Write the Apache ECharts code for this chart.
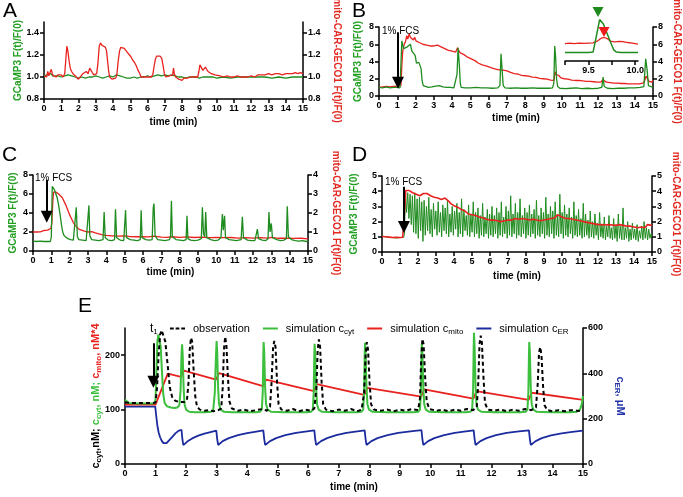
<!DOCTYPE html>
<html><head><meta charset="utf-8">
<script src="https://cdn.jsdelivr.net/npm/echarts@6/dist/echarts.min.js"></script>
<style>html,body{margin:0;padding:0;background:#fff}#c{width:683px;height:497px}</style>
</head><body><div id="c"></div>
<script>
// ---------------- DATA ----------------
const timeLabelStep = 1;
const aTicks = [0.8, 1.0, 1.2, 1.4];
const insetTicks = [9.25, 9.5, 9.75, 10.0];
const insetLabels = [9.5, 10.0];
const eLeftTicks = [0, 100, 200];

const aGreen = [[0,1.01],[0.1,1.0],[0.2,1.02],[0.3,1.01],[0.4,1.03],[0.5,1.01],[0.6,1.0],[0.8,1.01],[1.0,1.0],[1.2,1.01],[1.4,1.02],[1.6,1.01],[1.8,1.0],[2.0,0.99],[2.2,1.0],[2.4,0.99],[2.6,1.0],[2.8,1.0],[3.0,1.01],[3.2,1.0],[3.4,0.99],[3.6,1.0],[3.8,1.01],[4.0,1.0],[4.2,1.02],[4.4,1.01],[4.6,1.0],[4.8,0.99],[5.0,0.99],[5.2,1.0],[5.4,0.99],[5.6,1.0],[5.8,1.0],[6.0,1.01],[6.2,1.0],[6.4,1.01],[6.6,1.02],[6.8,1.01],[7.0,1.02],[7.2,1.01],[7.4,1.02],[7.6,1.01],[7.8,1.0],[8.0,1.0],[8.2,0.99],[8.4,1.0],[8.6,1.0],[8.8,1.0],[9.0,0.99],[9.2,1.0],[9.4,1.0],[9.6,1.0],[9.8,1.0],[10.0,0.99],[10.4,1.0],[10.8,0.99],[11.2,1.0],[11.6,1.0],[12.0,1.0],[12.4,1.0],[12.8,1.0],[13.2,0.99],[13.6,1.0],[14.0,0.99],[14.4,1.0],[14.8,1.0],[15.0,1.0]];
const aRed = [[0,1.01],[0.08,1.02],[0.15,1.0],[0.22,1.05],[0.28,1.01],[0.35,1.02],[0.42,1.07],[0.48,1.03],[0.55,1.01],[0.62,1.02],[0.7,1.0],[0.8,1.02],[0.9,1.01],[1.0,1.02],[1.1,1.0],[1.2,1.03],[1.26,1.15],[1.32,1.28],[1.38,1.24],[1.45,1.15],[1.52,1.08],[1.6,1.05],[1.68,1.03],[1.75,1.04],[1.82,1.01],[1.9,1.0],[1.98,0.98],[2.05,0.99],[2.15,1.01],[2.25,1.03],[2.35,1.02],[2.45,1.05],[2.55,1.03],[2.65,1.08],[2.72,1.09],[2.8,1.04],[2.88,1.02],[2.95,1.01],[3.05,1.03],[3.12,1.12],[3.2,1.28],[3.27,1.31],[3.35,1.29],[3.45,1.28],[3.55,1.27],[3.62,1.24],[3.68,1.15],[3.74,1.06],[3.8,1.0],[3.88,0.99],[3.95,0.98],[4.05,0.98],[4.15,0.99],[4.22,1.02],[4.3,1.15],[4.38,1.24],[4.45,1.27],[4.55,1.27],[4.65,1.26],[4.75,1.25],[4.85,1.22],[4.95,1.2],[5.05,1.18],[5.15,1.15],[5.25,1.13],[5.35,1.1],[5.45,1.06],[5.55,1.03],[5.62,1.0],[5.7,0.99],[5.8,1.0],[5.9,0.99],[6.0,1.0],[6.1,0.99],[6.2,1.0],[6.3,1.02],[6.38,1.1],[6.45,1.16],[6.52,1.19],[6.62,1.2],[6.72,1.19],[6.82,1.17],[6.9,1.1],[6.97,1.03],[7.05,1.0],[7.15,1.0],[7.25,1.01],[7.35,1.0],[7.45,1.02],[7.5,1.08],[7.55,1.03],[7.62,1.0],[7.7,0.99],[7.8,0.98],[7.9,0.99],[8.0,0.97],[8.1,0.99],[8.2,0.98],[8.3,0.99],[8.4,0.98],[8.5,1.0],[8.6,0.99],[8.7,1.0],[8.8,0.99],[8.9,1.0],[8.97,1.05],[9.03,1.11],[9.1,1.09],[9.2,1.06],[9.28,1.07],[9.35,1.09],[9.42,1.07],[9.5,1.05],[9.6,1.04],[9.7,1.03],[9.8,1.02],[9.9,1.02],[10.0,1.01],[10.2,1.01],[10.4,1.0],[10.6,1.01],[10.8,1.0],[11.0,1.0],[11.2,1.01],[11.4,1.0],[11.6,1.0],[11.8,1.0],[12.0,1.01],[12.2,1.0],[12.4,1.02],[12.6,1.02],[12.8,1.02],[13.0,1.03],[13.2,1.02],[13.4,1.03],[13.6,1.03],[13.8,1.02],[14.0,1.03],[14.2,1.03],[14.4,1.03],[14.55,1.04],[14.7,1.03],[14.85,1.04],[15.0,1.03]];

const bGreen = [[0,1.0],[0.2,0.95],[0.4,1.05],[0.6,0.95],[0.8,1.0],[1.0,1.0],[1.15,0.95],[1.2,1.1],[1.25,6.4],[1.3,5.9],[1.35,5.5],[1.45,5.6],[1.55,5.7],[1.65,5.5],[1.72,6.0],[1.8,5.2],[1.9,5.0],[1.98,4.7],[2.05,3.8],[2.12,3.6],[2.18,3.9],[2.24,4.0],[2.3,3.2],[2.36,1.8],[2.42,1.2],[2.5,1.05],[2.7,1.0],[2.9,1.05],[3.1,1.15],[3.3,1.2],[3.5,1.05],[3.7,1.0],[3.9,1.0],[4.1,0.95],[4.2,1.0],[4.27,2.5],[4.33,5.6],[4.4,3.5],[4.45,1.5],[4.5,1.0],[4.7,0.95],[5.0,0.95],[5.3,1.0],[5.6,0.95],[5.9,0.95],[6.2,0.9],[6.5,0.95],[6.62,1.2],[6.68,4.9],[6.74,3.0],[6.8,1.2],[6.9,0.95],[7.2,0.9],[7.5,0.95],[7.8,0.9],[8.1,0.9],[8.4,0.95],[8.7,0.9],[9.0,0.9],[9.3,0.9],[9.5,0.95],[9.57,1.5],[9.62,5.8],[9.67,4.5],[9.72,2.0],[9.78,1.1],[9.9,0.9],[10.2,0.85],[10.5,0.9],[10.8,0.95],[11.1,0.85],[11.4,0.9],[11.7,0.85],[12.0,0.9],[12.2,1.0],[12.27,2.2],[12.33,1.1],[12.5,0.9],[12.8,0.85],[13.1,0.9],[13.4,0.9],[13.7,0.95],[14.0,0.95],[14.3,1.0],[14.5,1.1],[14.6,4.3],[14.68,3.0],[14.75,1.2],[14.85,1.0],[15.0,1.0]];
const bRed = [[0,1.0],[0.1,0.9],[0.2,1.05],[0.3,0.95],[0.4,1.1],[0.5,0.95],[0.6,1.05],[0.7,0.9],[0.8,1.1],[0.9,1.0],[1.0,1.15],[1.1,0.95],[1.2,1.2],[1.25,3.5],[1.3,5.2],[1.38,6.0],[1.45,6.3],[1.52,7.0],[1.58,6.6],[1.65,7.2],[1.72,6.8],[1.8,6.9],[1.88,6.5],[1.95,6.8],[2.02,6.4],[2.1,6.6],[2.2,6.2],[2.3,6.4],[2.4,6.0],[2.5,6.2],[2.6,5.9],[2.7,6.0],[2.8,5.8],[2.9,5.95],[3.0,5.8],[3.1,6.0],[3.2,5.9],[3.3,6.05],[3.4,5.7],[3.5,5.8],[3.6,5.5],[3.7,5.6],[3.8,5.3],[3.9,5.4],[4.0,5.2],[4.1,5.3],[4.2,5.1],[4.3,5.6],[4.36,5.3],[4.45,5.0],[4.55,5.2],[4.65,4.8],[4.75,4.9],[4.85,4.5],[4.95,4.6],[5.05,4.3],[5.15,4.4],[5.25,4.1],[5.35,4.0],[5.45,3.8],[5.55,3.9],[5.65,3.6],[5.75,3.7],[5.85,3.5],[5.95,3.55],[6.05,3.35],[6.15,3.4],[6.25,3.2],[6.35,3.3],[6.45,3.1],[6.55,3.2],[6.65,3.0],[6.72,3.2],[6.8,3.0],[6.9,3.05],[7.0,2.9],[7.1,2.95],[7.2,2.75],[7.3,2.85],[7.4,2.6],[7.5,2.7],[7.6,2.55],[7.7,2.6],[7.8,2.4],[7.9,2.5],[8.0,2.35],[8.1,2.45],[8.2,2.3],[8.3,2.35],[8.4,2.2],[8.5,2.3],[8.6,2.15],[8.7,2.2],[8.8,2.05],[8.9,2.15],[9.0,2.0],[9.1,2.1],[9.2,1.95],[9.3,2.0],[9.4,1.85],[9.5,1.95],[9.58,1.8],[9.64,2.8],[9.7,2.5],[9.78,2.3],[9.86,2.35],[9.95,2.1],[10.05,2.2],[10.15,2.0],[10.25,2.1],[10.35,1.95],[10.45,2.0],[10.55,1.85],[10.65,1.95],[10.75,1.8],[10.85,1.9],[10.95,1.8],[11.05,1.85],[11.15,1.75],[11.25,1.8],[11.35,1.7],[11.45,1.8],[11.55,1.7],[11.65,1.75],[11.75,1.65],[11.85,1.7],[11.95,1.6],[12.05,1.7],[12.15,1.6],[12.25,1.9],[12.35,1.7],[12.45,1.6],[12.55,1.65],[12.65,1.55],[12.75,1.6],[12.85,1.5],[12.95,1.6],[13.05,1.5],[13.15,1.55],[13.25,1.45],[13.35,1.55],[13.45,1.45],[13.55,1.5],[13.65,1.4],[13.75,1.5],[13.85,1.4],[13.95,1.45],[14.05,1.4],[14.15,1.5],[14.25,1.4],[14.35,1.45],[14.45,1.5],[14.55,1.8],[14.62,2.3],[14.7,2.0],[14.78,1.7],[14.86,1.8],[14.93,1.6],[15.0,1.8]];
const bInsetGreen = [[9.25,1.5],[9.3,1.5],[9.35,1.5],[9.4,1.5],[9.45,1.5],[9.5,1.5],[9.55,1.6],[9.58,4.0],[9.62,7.4],[9.66,6.6],[9.7,4.9],[9.74,3.2],[9.77,2.0],[9.8,1.6],[9.85,1.5],[9.9,1.5],[9.95,1.5],[10.0,1.5],[10.03,1.5]];
const bInsetRed = [[9.25,3.1],[9.3,3.2],[9.35,3.1],[9.4,3.2],[9.45,3.15],[9.5,3.2],[9.55,3.25],[9.6,3.6],[9.64,4.1],[9.67,4.2],[9.7,4.0],[9.74,3.5],[9.78,3.4],[9.83,3.5],[9.87,3.45],[9.92,3.3],[9.97,3.2],[10.03,3.0]];
const bInsetMarkers = [[9.603, 8.75], [9.667, 5.2]];

const cGreen = [[0,1.05],[0.2,1.0],[0.4,1.05],[0.6,1.0],[0.8,1.0],[0.95,1.0],[1.0,1.5],[1.05,6.8],[1.1,6.7],[1.18,6.4],[1.25,6.0],[1.32,5.6],[1.4,4.8],[1.48,3.8],[1.55,2.8],[1.62,2.0],[1.7,1.6],[1.8,1.4],[1.9,1.3],[2.05,1.2],[2.2,1.15],[2.3,1.2],[2.36,4.6],[2.42,1.5],[2.5,1.2],[2.7,1.15],[2.9,1.1],[3.0,1.3],[3.05,4.8],[3.1,1.6],[3.2,1.2],[3.4,1.15],[3.6,1.1],[3.82,1.2],[3.88,4.1],[3.94,1.4],[4.1,1.15],[4.3,1.1],[4.45,1.2],[4.5,4.4],[4.56,1.4],[4.75,1.15],[4.95,1.1],[5.0,1.3],[5.05,4.3],[5.1,1.4],[5.3,1.2],[5.5,1.15],[5.7,1.1],[5.85,1.2],[5.9,4.3],[5.95,1.4],[6.15,1.2],[6.35,1.15],[6.5,1.2],[6.56,4.6],[6.6,5.0],[6.66,1.6],[6.8,1.2],[7.0,1.15],[7.2,1.1],[7.45,1.2],[7.5,1.6],[7.55,5.3],[7.6,1.5],[7.8,1.2],[8.0,1.15],[8.2,1.1],[8.35,1.2],[8.4,3.7],[8.45,1.3],[8.6,1.15],[8.8,1.1],[9.0,1.15],[9.18,1.3],[9.24,4.6],[9.3,1.8],[9.37,1.5],[9.42,4.1],[9.48,1.4],[9.7,1.2],[9.9,1.1],[10.1,1.15],[10.25,1.4],[10.33,3.9],[10.38,2.2],[10.45,3.7],[10.5,1.4],[10.7,1.2],[10.9,1.15],[11.1,1.1],[11.35,1.2],[11.42,3.6],[11.48,1.4],[11.7,1.15],[11.9,1.1],[12.1,1.1],[12.2,1.3],[12.24,2.3],[12.3,1.3],[12.5,1.15],[12.7,1.1],[12.82,1.3],[12.87,4.1],[12.93,2.0],[13.0,2.9],[13.06,1.4],[13.3,1.2],[13.5,1.1],[13.7,1.15],[13.82,1.3],[13.87,4.7],[13.93,1.5],[14.1,1.2],[14.3,1.1],[14.5,1.05],[14.7,1.1],[14.9,1.0],[15.0,1.05]];
const cRed = [[0,1.0],[0.1,1.02],[0.2,1.0],[0.3,1.03],[0.4,1.01],[0.5,1.05],[0.6,1.08],[0.7,1.05],[0.8,1.1],[0.9,1.15],[0.98,1.2],[1.03,1.5],[1.08,2.6],[1.12,3.1],[1.18,3.15],[1.25,3.1],[1.32,3.15],[1.4,3.0],[1.5,2.9],[1.6,2.8],[1.7,2.6],[1.8,2.4],[1.9,2.15],[2.0,1.9],[2.1,1.7],[2.2,1.5],[2.3,1.35],[2.4,1.25],[2.5,1.15],[2.6,1.1],[2.8,1.05],[3.0,1.0],[3.2,1.02],[3.4,0.95],[3.6,0.9],[3.8,0.85],[4.0,0.82],[4.3,0.8],[4.6,0.78],[5.0,0.8],[5.3,0.76],[5.6,0.75],[6.0,0.76],[6.3,0.74],[6.6,0.78],[7.0,0.73],[7.3,0.72],[7.6,0.75],[8.0,0.72],[8.4,0.74],[8.8,0.71],[9.2,0.73],[9.6,0.7],[10.0,0.72],[10.4,0.7],[10.8,0.71],[11.2,0.68],[11.6,0.7],[12.0,0.68],[12.4,0.7],[12.8,0.68],[13.0,0.72],[13.4,0.67],[13.8,0.68],[14.2,0.66],[14.6,0.67],[15.0,0.64]];

const dGreenPre = [[0,1.05],[0.2,1.0],[0.4,0.95],[0.6,0.95],[0.8,0.92],[1.0,0.95],[1.2,0.95],[1.25,1.2]];
const dGreenOscStart = 1.30, dGreenOscStep = 0.065;
const dGreenOsc = [4.0,2.6,3.9,2.2,3.8,1.8,
 3.7,1.3,3.9,1.2,3.5,0.9,3.6,1.4,3.3,0.7,
 3.4,1.1,3.0,1.4,3.6,1.2,2.8,1.0,3.2,1.5,
 2.7,1.1,3.3,1.3,2.6,1.0,3.1,1.4,2.9,1.2,
 3.4,1.0,2.5,1.3,3.0,1.1,2.7,1.5,3.2,1.0,
 2.6,1.2,3.5,1.0,2.8,1.4,2.4,1.1,3.1,1.0,
 2.5,1.3,3.3,1.0,2.6,1.2,2.9,0.9,2.4,1.1,
 3.2,1.0,2.3,1.2,2.8,0.9,2.5,1.1,3.0,1.0,
 2.4,1.2,2.9,0.9,2.6,1.1,3.3,1.0,2.3,1.2,
 3.0,0.9,2.7,1.1,3.7,1.0,2.5,1.2,3.2,0.9,
 2.6,1.1,3.5,1.0,2.4,1.2,2.9,0.9,2.6,1.1,
 3.1,1.0,2.5,1.2,2.8,0.9,3.4,1.1,2.4,1.0,
 2.9,1.2,2.6,0.9,3.6,1.1,2.5,1.0,3.0,1.2,
 2.7,0.9,3.3,1.1,2.4,1.0,3.8,1.2,2.6,0.9,
 3.1,1.1,2.5,1.0,2.9,1.2,2.3,0.9,3.3,1.1,
 2.4,1.0,2.8,1.1,2.2,0.9,3.2,1.0,2.5,1.1,
 2.1,0.9,2.7,1.0,2.0,0.9,2.5,1.1,1.9,0.8,
 2.6,1.0,1.8,0.9,2.3,0.8,1.7,1.0,2.4,0.9,
 1.6,0.8,2.2,0.9,1.8,0.7,2.5,0.9,1.7,0.8,
 2.9,0.8,1.6,0.9,2.0,0.7,1.5,0.8,1.9,0.9,
 1.5,0.8,1.8,0.7,1.4,0.9,1.7,0.8,2.0,0.9,
 1.6,0.8,1.5,0.9,1.2];
const dGreenEnd = [[15.0,1.0]];
const dRed = [[0,1.02],[0.2,1.0],[0.4,0.98],[0.6,0.95],[0.8,0.96],[1.0,0.95],[1.15,0.97],[1.22,1.1],[1.27,3.0],[1.32,4.05],[1.4,4.0],[1.5,4.05],[1.6,3.95],[1.7,3.9],[1.8,3.85],[1.9,3.8],[2.0,3.75],[2.1,3.7],[2.2,3.75],[2.3,3.85],[2.4,3.95],[2.5,3.85],[2.6,3.75],[2.7,3.7],[2.8,3.65],[2.9,3.6],[3.0,3.6],[3.1,3.55],[3.2,3.5],[3.3,3.45],[3.4,3.45],[3.5,3.55],[3.6,3.5],[3.7,3.35],[3.8,3.2],[3.9,3.15],[4.0,3.05],[4.1,3.0],[4.2,2.95],[4.3,2.85],[4.4,2.8],[4.5,2.75],[4.6,2.7],[4.7,2.6],[4.8,2.5],[4.9,2.45],[5.0,2.45],[5.1,2.4],[5.2,2.4],[5.3,2.35],[5.4,2.3],[5.5,2.3],[5.6,2.25],[5.7,2.2],[5.8,2.15],[5.9,2.1],[6.0,2.1],[6.2,2.1],[6.4,2.05],[6.6,2.0],[6.8,2.05],[7.0,2.1],[7.2,2.1],[7.4,2.2],[7.6,2.15],[7.8,2.2],[8.0,2.15],[8.2,2.1],[8.4,2.15],[8.6,2.1],[8.8,2.05],[9.0,2.1],[9.2,2.15],[9.4,2.2],[9.6,2.25],[9.75,2.45],[9.85,2.4],[10.0,2.3],[10.2,2.2],[10.4,2.2],[10.6,2.15],[10.8,2.1],[11.0,2.05],[11.2,2.0],[11.4,1.95],[11.6,1.9],[11.8,1.85],[12.0,1.8],[12.2,1.8],[12.4,1.78],[12.6,1.8],[12.8,1.78],[13.0,1.75],[13.2,1.8],[13.4,1.75],[13.6,1.7],[13.8,1.7],[14.0,1.65],[14.2,1.6],[14.4,1.65],[14.6,1.6],[14.75,1.8],[14.85,1.7],[15.0,1.75]];

const eObservation = [[0,113],[0.3,112],[0.6,112],[0.9,112],[1.0,113],[1.05,140],[1.1,200],[1.15,238],[1.2,246],[1.26,244],[1.32,225],[1.4,180],[1.47,140],[1.55,122],[1.65,116],[1.8,114],[1.95,114],[2.03,118],[2.08,150],[2.12,210],[2.16,232],[2.2,225],[2.25,170],[2.3,125],[2.36,105],[2.45,100],[2.6,98],[2.75,99],[2.9,97],[3.05,99],[3.15,102],[3.2,140],[3.24,210],[3.28,234],[3.32,220],[3.37,160],[3.42,115],[3.5,102],[3.7,98],[3.9,100],[4.1,97],[4.3,99],[4.5,101],[4.65,98],[4.75,105],[4.8,150],[4.85,215],[4.89,226],[4.93,215],[4.98,150],[5.03,110],[5.12,100],[5.3,98],[5.5,101],[5.7,97],[5.9,100],[6.1,98],[6.2,102],[6.27,140],[6.31,210],[6.35,229],[6.39,215],[6.44,150],[6.49,110],[6.58,100],[6.8,97],[7.0,100],[7.2,98],[7.4,101],[7.6,97],[7.75,100],[7.83,130],[7.88,200],[7.92,224],[7.96,210],[8.01,150],[8.06,110],[8.15,100],[8.35,98],[8.6,100],[8.8,97],[9.0,100],[9.2,98],[9.4,101],[9.6,99],[9.66,120],[9.7,190],[9.74,230],[9.78,220],[9.83,160],[9.88,115],[9.97,101],[10.2,98],[10.4,100],[10.6,97],[10.8,100],[11.0,98],[11.2,101],[11.4,99],[11.52,104],[11.57,150],[11.61,220],[11.65,236],[11.69,222],[11.74,160],[11.79,112],[11.88,100],[12.1,98],[12.3,100],[12.5,97],[12.7,100],[12.9,98],[13.1,101],[13.3,99],[13.46,104],[13.52,150],[13.56,205],[13.6,215],[13.64,200],[13.69,145],[13.74,108],[13.83,99],[14.0,97],[14.2,99],[14.4,97],[14.6,99],[14.8,98],[15.0,97]];
const eSimCyt = [[0,118],[0.05,115],[0.12,112],[0.3,111],[0.6,111],[0.9,111],[0.98,112],[1.0,120],[1.03,170],[1.06,225],[1.09,238],[1.13,236],[1.17,215],[1.21,170],[1.25,130],[1.3,112],[1.38,106],[1.5,104],[1.62,103],[1.72,104],[1.78,108],[1.82,135],[1.85,200],[1.87,220],[1.89,200],[1.92,140],[1.95,110],[2.0,100],[2.1,96],[2.3,95],[2.6,95],[2.82,96],[2.89,100],[2.94,130],[2.98,200],[3.0,226],[3.02,206],[3.05,140],[3.08,110],[3.13,100],[3.25,96],[3.5,95],[3.9,95],[4.3,95],[4.42,96],[4.48,100],[4.51,130],[4.53,200],[4.54,224],[4.56,205],[4.59,140],[4.62,110],[4.67,100],[4.79,96],[5.2,95],[5.6,95],[5.95,95],[6.09,96],[6.15,100],[6.18,130],[6.2,200],[6.21,221],[6.23,202],[6.26,140],[6.29,110],[6.34,100],[6.46,96],[6.9,95],[7.3,95],[7.6,95],[7.74,96],[7.8,100],[7.83,130],[7.85,200],[7.86,223],[7.88,204],[7.91,140],[7.94,110],[7.99,100],[8.11,96],[8.6,95],[9.1,95],[9.45,95],[9.6,96],[9.66,100],[9.69,130],[9.71,200],[9.72,221],[9.74,202],[9.77,140],[9.8,110],[9.85,100],[9.97,96],[10.4,95],[10.8,95],[11.15,95],[11.31,96],[11.37,100],[11.4,135],[11.42,215],[11.43,241],[11.45,215],[11.48,145],[11.51,110],[11.56,100],[11.68,96],[12.1,95],[12.6,95],[12.95,95],[13.12,96],[13.18,100],[13.21,130],[13.23,200],[13.24,224],[13.26,205],[13.29,140],[13.32,110],[13.37,100],[13.49,96],[13.9,95],[14.3,95],[14.6,95],[14.8,96],[14.9,100],[14.96,110],[15.0,125]];
const eSimMito = [[0,109],[0.5,109],[1.0,109],[1.4,166],[1.84,160],[1.9,172],[2.98,155],[3.08,167],[4.52,143],[4.62,155],[6.19,134],[6.28,147],[7.84,127],[7.94,140],[9.7,124],[9.8,137],[11.41,120],[11.51,134],[13.22,118],[13.32,131],[15.0,118]];
const eSimER = [[0,253],[0.5,253],[0.99,253],[1.02,215],[1.06,170],[1.1,140],[1.15,118],[1.2,103],[1.26,92],[1.31,88],[1.36,92],[1.45,105],[1.55,120],[1.65,135],[1.75,146],[1.85,151],[1.88,110],[1.91,83],[1.95,88],[2.05,100],[2.2,113],[2.4,125],[2.6,134],[2.8,141],[2.99,147],[3.02,110],[3.05,84],[3.1,90],[3.2,101],[3.4,114],[3.7,127],[4.0,136],[4.3,143],[4.53,148],[4.56,110],[4.59,84],[4.64,90],[4.75,101],[4.95,114],[5.25,127],[5.6,137],[5.9,143],[6.2,148],[6.23,110],[6.26,84],[6.31,90],[6.42,101],[6.62,114],[6.92,127],[7.25,137],[7.55,143],[7.85,148],[7.88,110],[7.91,84],[7.96,90],[8.07,101],[8.27,114],[8.6,127],[8.95,137],[9.35,144],[9.71,149],[9.74,110],[9.77,84],[9.82,90],[9.93,101],[10.13,114],[10.45,127],[10.8,137],[11.1,143],[11.42,148],[11.45,110],[11.48,84],[11.53,90],[11.64,101],[11.84,114],[12.15,127],[12.5,137],[12.9,144],[13.23,148],[13.26,110],[13.29,84],[13.34,90],[13.45,101],[13.65,114],[13.95,126],[14.3,135],[14.65,142],[15.0,147]];

// stimulus arrows: [time, top value, head value]
const arrowB = [1.04, 7.4, 1.55];
const arrowC = [0.75, 7.5, 3.6];
const arrowD = [1.22, 4.3, 1.65];
const arrowE = [0.93, 222, 151];

// ---------------- CHART ----------------
const FF = '"Liberation Sans", Arial, Helvetica, sans-serif';
const GREEN = '#1f8c1f', RED = '#e8231f', GREEN_T = '#23a023', RED_T = '#e22a22';
const EGREEN = '#3cbf3c', EBLUE = '#1c2c9e', EBLUE_T = '#2233aa';

const dGreen = dGreenPre
  .concat(dGreenOsc.map((v, i) => [+(dGreenOscStart + i * dGreenOscStep).toFixed(3), v]))
  .concat(dGreenEnd);

const axisLineStyle = {color: '#000', width: 1.5};
const labelStyle = {fontSize: 9, fontWeight: 'bold', color: '#000', fontFamily: FF};

function xAxis(grid, gap, extra) {
  return Object.assign({
    type: 'value', gridIndex: grid, min: 0, max: 15, interval: timeLabelStep,
    name: 'time (min)', nameLocation: 'middle', nameGap: gap, nameMoveOverlap: false,
    nameTextStyle: {fontSize: 10, fontWeight: 'bold', color: '#000', fontFamily: FF},
    axisLine: {show: true, onZero: false, lineStyle: axisLineStyle},
    axisTick: {show: true, length: 4, lineStyle: axisLineStyle},
    axisLabel: Object.assign({margin: 5}, labelStyle),
    splitLine: {show: false}
  }, extra || {});
}
function yAxis(grid, pos, min, max, interval, name, color, gap, ticks, fmt) {
  const ax = {
    type: 'value', gridIndex: grid, position: pos, min, max, interval,
    name, nameLocation: 'middle', nameGap: gap, nameRotate: pos === 'right' ? -90 : 90,
    nameMoveOverlap: false,
    nameTextStyle: {fontSize: 10, fontWeight: 'bold', color, fontFamily: FF},
    axisLine: {show: true, onZero: false, lineStyle: axisLineStyle},
    axisTick: {show: true, length: 4, lineStyle: axisLineStyle},
    axisLabel: Object.assign({margin: 5}, labelStyle),
    splitLine: {show: false}
  };
  if (ticks) { ax.axisLabel.customValues = ticks; ax.axisTick.customValues = ticks; }
  if (fmt) ax.axisLabel.formatter = fmt;
  return ax;
}
function line(name, data, xi, yi, color, width, extra) {
  return Object.assign({
    type: 'line', name, data, xAxisIndex: xi, yAxisIndex: yi,
    symbol: 'none', showSymbol: false, silent: true, animation: false,
    lineStyle: {color, width}, itemStyle: {color}, emphasis: {disabled: true}, z: 2
  }, extra || {});
}
function arrowMark(a) {
  return {
    silent: true, animation: false, symbol: ['none', 'triangle'], symbolSize: 12,
    lineStyle: {color: '#000', width: 2, type: 'solid'}, itemStyle: {color: '#000'},
    label: {show: false}, emphasis: {disabled: true},
    data: [[{coord: [a[0], a[1]]}, {coord: [a[0], a[2]]}]]
  };
}
const fix1 = v => v.toFixed(1);
const gridBase = {containLabel: false, outerBoundsMode: 'none', show: false};

const subRich = (c) => ({
  k: {fontSize: 11, fontWeight: 'bold', color: c, fontFamily: FF},
  s: {fontSize: 8, fontWeight: 'bold', color: c, fontFamily: FF, verticalAlign: 'top', padding: [6, 0, 0, 0]}
});

const option = {
  backgroundColor: '#fff',
  animation: false,
  grid: [
    Object.assign({left: 44, top: 22, width: 259, height: 77}, gridBase),
    Object.assign({left: 379, top: 27, width: 274, height: 69}, gridBase),
    Object.assign({left: 33, top: 175, width: 275, height: 76}, gridBase),
    Object.assign({left: 382, top: 176, width: 270, height: 76}, gridBase),
    Object.assign({left: 125, top: 328, width: 458, height: 136}, gridBase),
    Object.assign({left: 565, top: 5, width: 73, height: 56}, gridBase)
  ],
  xAxis: [
    xAxis(0, 18), xAxis(1, 17), xAxis(2, 16), xAxis(3, 19), xAxis(4, 18),
    {
      type: 'value', gridIndex: 5, min: 9.25, max: 10.03,
      axisLine: {show: true, onZero: false, lineStyle: axisLineStyle},
      axisTick: {show: true, length: 4, customValues: insetTicks, lineStyle: axisLineStyle},
      axisLabel: Object.assign({margin: 5, customValues: insetLabels, formatter: fix1}, labelStyle),
      splitLine: {show: false}
    }
  ],
  yAxis: [
    yAxis(0, 'left', 0.8, 1.5, 0.2, 'GCaMP3 F(t)/F(0)', GREEN_T, 21, aTicks, fix1),
    yAxis(0, 'right', 0.8, 1.5, 0.2, 'mito-CAR-GECO1 F(t)/F(0)', RED_T, 29, aTicks, fix1),
    yAxis(1, 'left', 0, 8, 2, 'GCaMP3 F(t)/F(0)', GREEN_T, 16),
    yAxis(1, 'right', 0, 8, 2, 'mito-CAR-GECO1 F(t)/F(0)', RED_T, 19),
    yAxis(2, 'left', 0, 8, 2, 'GCaMP3 F(t)/F(0)', GREEN_T, 15),
    yAxis(2, 'right', 0, 4, 1, 'mito-CAR-GECO1 F(t)/F(0)', RED_T, 23),
    yAxis(3, 'left', 0, 5, 1, 'GCaMP3 F(t)/F(0)', GREEN_T, 23),
    yAxis(3, 'right', 0, 5, 1, 'mito-CAR-GECO1 F(t)/F(0)', RED_T, 19),
    (function () {
      const ax = yAxis(4, 'left', 0, 250, 100, '{k|c}{ks|cyt}{k|,nM; }{g|c}{gs|cyt}{g|, nM; }{r|c}{rs|mito}{r|, nM*4}', '#000', 22, eLeftTicks);
      const kk = subRich('#000'), gg = subRich(EGREEN), rr = subRich(RED);
      ax.nameTextStyle.rich = {k: kk.k, ks: kk.s, g: gg.k, gs: gg.s, r: rr.k, rs: rr.s};
      return ax;
    })(),
    (function () {
      const ax = yAxis(4, 'right', 0, 600, 200, '{k|c}{ks|ER}{k|, μM}', EBLUE_T, 30);
      const bb = subRich(EBLUE_T);
      ax.nameTextStyle.rich = {k: bb.k, ks: bb.s};
      return ax;
    })(),
    {type: 'value', gridIndex: 5, min: 0, max: 10, show: false}
  ],
  legend: {
    left: 165, top: 318, itemWidth: 15, itemHeight: 2, itemGap: 13, selectedMode: false,
    data: [
      {name: 'observation', icon: 'path://M0 0h4v2H0zM6 0h4v2H6zM12 0h4v2h-4z'},
      {name: 'simulation c_cyt', icon: 'rect'},
      {name: 'simulation c_mito', icon: 'rect'},
      {name: 'simulation c_ER', icon: 'rect'}
    ],
    formatter: function (n) {
      if (n === 'observation') return '{p|observation}';
      const sub = n.split('_')[1];
      return '{p|simulation c}{s|' + sub + '}';
    },
    textStyle: {
      fontSize: 11, color: '#000', fontFamily: FF,
      rich: {
        p: {fontSize: 11, color: '#000', fontFamily: FF, padding: [0, 0, 0, 3]},
        s: {fontSize: 8, color: '#000', fontFamily: FF, verticalAlign: 'top', padding: [6, 0, 0, 0]}
      }
    }
  },
  series: [
    line('A GCaMP3', aGreen, 0, 0, GREEN, 1.3),
    line('A mito', aRed, 0, 1, RED, 1.3),
    line('B mito', bRed, 1, 3, RED, 1.3),
    line('B GCaMP3', bGreen, 1, 2, GREEN, 1.3, {markLine: arrowMark(arrowB)}),
    line('C mito', cRed, 2, 5, RED, 1.3),
    line('C GCaMP3', cGreen, 2, 4, GREEN, 1.3, {markLine: arrowMark(arrowC)}),
    line('D GCaMP3', dGreen, 3, 6, GREEN, 1.0, {markLine: arrowMark(arrowD)}),
    line('D mito', dRed, 3, 7, RED, 1.6),
    line('simulation c_ER', eSimER, 4, 9, EBLUE, 1.8),
    line('simulation c_mito', eSimMito, 4, 8, RED, 1.8),
    line('simulation c_cyt', eSimCyt, 4, 8, EGREEN, 2),
    line('observation', eObservation, 4, 8, '#000', 2, {
      lineStyle: {color: '#000', width: 2, type: [4, 3]}, markLine: arrowMark(arrowE)
    }),
    line('inset mito', bInsetRed, 5, 10, RED, 1.3, {
      markPoint: {symbol: 'triangle', symbolRotate: 180, symbolSize: [11, 10], silent: true, animation: false,
        label: {show: false}, data: [{coord: bInsetMarkers[1], itemStyle: {color: '#ee1d1d'}}]}
    }),
    line('inset GCaMP3', bInsetGreen, 5, 10, GREEN, 1.5, {
      markPoint: {symbol: 'triangle', symbolRotate: 180, symbolSize: [11, 10], silent: true, animation: false,
        label: {show: false}, data: [{coord: bInsetMarkers[0], itemStyle: {color: '#1e8a1e'}}]}
    })
  ],
  graphic: [
    {type: 'text', x: 3, y: 11, silent: true, style: {text: 'A', font: '21px ' + FF, fill: '#000', verticalAlign: 'middle'}},
    {type: 'text', x: 352, y: 11, silent: true, style: {text: 'B', font: '21px ' + FF, fill: '#000', verticalAlign: 'middle'}},
    {type: 'text', x: 2, y: 155, silent: true, style: {text: 'C', font: '21px ' + FF, fill: '#000', verticalAlign: 'middle'}},
    {type: 'text', x: 352, y: 155, silent: true, style: {text: 'D', font: '21px ' + FF, fill: '#000', verticalAlign: 'middle'}},
    {type: 'text', x: 78, y: 306, silent: true, style: {text: 'E', font: '21px ' + FF, fill: '#000', verticalAlign: 'middle'}},
    {type: 'text', x: 382, y: 31, silent: true, style: {text: '1% FCS', font: '10px ' + FF, fill: '#000', verticalAlign: 'middle'}},
    {type: 'text', x: 35, y: 178, silent: true, style: {text: '1% FCS', font: '10px ' + FF, fill: '#000', verticalAlign: 'middle'}},
    {type: 'text', x: 385, y: 182, silent: true, style: {text: '1% FCS', font: '10px ' + FF, fill: '#000', verticalAlign: 'middle'}},
    {type: 'text', x: 150, y: 329, silent: true, style: {
      text: '{t|t}{u|1}', verticalAlign: 'middle',
      rich: {t: {fontSize: 12, fontFamily: FF, fill: '#000'}, u: {fontSize: 8, fontFamily: FF, fill: '#000', verticalAlign: 'top', padding: [6, 0, 0, 0]}}
    }}
  ]
};

const chart = echarts.init(document.getElementById('c'), null, {renderer: 'canvas'});
chart.setOption(option);
</script></body></html>
